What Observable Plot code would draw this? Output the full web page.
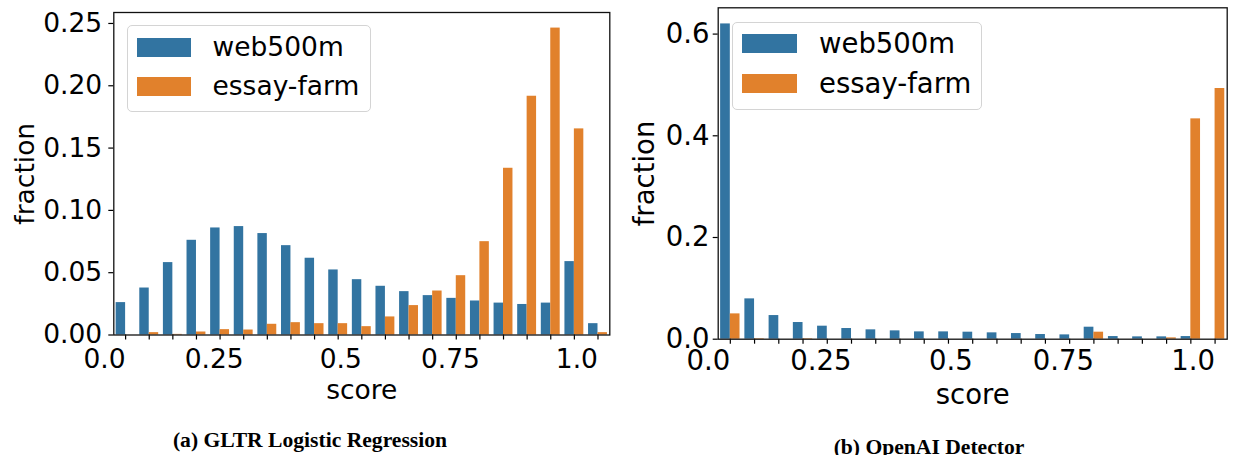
<!DOCTYPE html>
<html><head><meta charset="utf-8">
<script src="https://cdn.jsdelivr.net/npm/d3@7"></script>
<script src="https://cdn.jsdelivr.net/npm/@observablehq/plot@0.6"></script>
<style>
body{margin:0;background:#fff;}
#wrap{position:relative;width:1233px;height:455px;overflow:hidden;font-family:"DejaVu Sans";color:#000;}
.panel{position:absolute;top:0;}
.legend{position:absolute;border:1.3px solid #d4d4d4;border-radius:5px;background:rgba(255,255,255,0.8);box-sizing:border-box;}
.sw{position:absolute;}
.lt{position:absolute;line-height:1;white-space:nowrap;font-family:"DejaVu Sans";}
.cap{position:absolute;text-align:center;font-family:"Liberation Serif";font-weight:bold;line-height:1;white-space:nowrap;}
</style>
</head><body><div id="wrap"></div><script>
// score bins (group centres) shared by both panels
const bins = [0.00,0.05,0.10,0.15,0.20,0.25,0.30,0.35,0.40,0.45,0.50,0.55,0.60,0.65,0.70,0.75,0.80,0.85,0.90,0.95,1.00];
const seriesNames = ["web500m","essay-farm"];
const seriesColors = ["#3274a1","#e1812c"];
const xTickValues = [0, 0.25, 0.5, 0.75, 1.0];
const xTickLabels = ["0.0","0.25","0.5","0.75","1.0"];

// (a) GLTR Logistic Regression
const gltrWeb = [0.0260,0.0377,0.0581,0.0760,0.0859,0.0870,0.0814,0.0717,0.0616,0.0522,0.0444,0.0391,0.0348,0.0316,0.0294,0.0273,0.0256,0.0245,0.0256,0.0589,0.0091];
const gltrEssay = [0.0000,0.0019,0.0005,0.0024,0.0043,0.0040,0.0086,0.0099,0.0091,0.0091,0.0067,0.0145,0.0236,0.0353,0.0476,0.0749,0.1338,0.1916,0.2463,0.1654,0.0019];
const gltrYTicks = [0,0.05,0.10,0.15,0.20,0.25];

// (b) OpenAI Detector
const openaiWeb = [0.620,0.0793,0.0465,0.0328,0.0256,0.0210,0.0184,0.0164,0.0144,0.0144,0.0138,0.0125,0.0111,0.0092,0.0085,0.0236,0.0052,0.0046,0.0046,0.0052,0.0000];
const openaiEssay = [0.0498,0.0010,0.0000,0.0010,0.0000,0.0000,0.0000,0.0000,0.0000,0.0000,0.0000,0.0000,0.0000,0.0000,0.0000,0.0138,0.0000,0.0000,0.0026,0.4333,0.4930];
const openaiYTicks = [0,0.2,0.4,0.6];

const captions = ["(a) GLTR Logistic Regression","(b) OpenAI Detector"];

const wrap = document.getElementById("wrap");
const halfW = 0.02;

function panel(cfg){
  const rows = [];
  bins.forEach((b,i)=>{
    rows.push({series: seriesNames[0], value: cfg.web[i], x1: b - halfW, x2: b});
    rows.push({series: seriesNames[1], value: cfg.essay[i], x1: b, x2: b + halfW});
  });
  const fs = cfg.fs;
  const svg = Plot.plot({
    width: cfg.width, height: cfg.height,
    marginLeft: cfg.ml, marginRight: cfg.mr, marginTop: cfg.mt, marginBottom: cfg.mb,
    style: {fontFamily: "DejaVu Sans", fontSize: fs + "px", color: "#000", background: "transparent", overflow: "visible"},
    x: {domain: [-0.025, 1.025], axis: null},
    y: {domain: [0, cfg.ymax], axis: null},
    color: {domain: seriesNames, range: seriesColors},
    marks: [
      Plot.rect(rows, {x1: "x1", x2: "x2", y1: d => 0, y2: "value", fill: "series"}),
      Plot.axisY({ticks: cfg.yTicks, tickFormat: d3.format(cfg.yFmt), tickSize: 5, tickPadding: cfg.yPad, fontSize: fs, strokeWidth: 1.2, label: null}),
      Plot.axisX({ticks: bins, tickSize: 5, tickFormat: () => "", strokeWidth: 1.2, label: null}),
      Plot.text(xTickValues, {x: d => d, text: d => xTickLabels[xTickValues.indexOf(d)], frameAnchor: "bottom", textAnchor: "end", lineAnchor: "top", dy: cfg.xPad, fontSize: fs}),
      Plot.frame({stroke: "#111", strokeWidth: 1.3}),
      Plot.text(["score"], {frameAnchor: "bottom", textAnchor: "middle", lineAnchor: "bottom", dy: cfg.scoreDy, fontSize: fs}),
      Plot.text(["fraction"], {frameAnchor: "left", textAnchor: "middle", lineAnchor: "bottom", rotate: -90, dx: cfg.fracDx, fontSize: fs})
    ]
  });
  svg.classList.add("panel");
  svg.style.left = cfg.left + "px";
  wrap.appendChild(svg);

  // legend (inside axes, upper left)
  const L = cfg.legend;
  const box = document.createElement("div");
  box.className = "legend";
  Object.assign(box.style, {left: L.x + "px", top: L.y + "px", width: L.w + "px", height: L.h + "px"});
  wrap.appendChild(box);
  seriesNames.forEach((name, i) => {
    const sw = document.createElement("div");
    sw.className = "sw";
    Object.assign(sw.style, {left: L.swx + "px", top: L.swy[i] + "px", width: L.sww + "px", height: L.swh + "px", background: seriesColors[i]});
    wrap.appendChild(sw);
    const t = document.createElement("div");
    t.className = "lt";
    t.textContent = name;
    Object.assign(t.style, {left: L.tx + "px", top: (L.base[i] - 0.846 * L.fs) + "px", fontSize: L.fs + "px"});
    wrap.appendChild(t);
  });

  const cap = document.createElement("div");
  cap.className = "cap";
  cap.textContent = cfg.caption;
  Object.assign(cap.style, {left: cfg.capLeft + "px", width: cfg.capWidth + "px", top: (cfg.capBase - 0.8375 * cfg.capFs) + "px", fontSize: cfg.capFs + "px"});
  wrap.appendChild(cap);
}

panel({
  left: 0, width: 620, height: 420, ml: 113.3, mr: 10.7, mt: 12, mb: 420 - 334.5,
  web: gltrWeb, essay: gltrEssay, ymax: 0.2588, yTicks: gltrYTicks, yFmt: ".2f",
  fs: 26.5, yPad: 6.6, xPad: 14.3, scoreDy: 63.8, fracDx: 33.3 - 113.3,
  legend: {x: 126.7, y: 25.3, w: 244.3, h: 87, swx: 137.3, swy: [38.3, 77.3], sww: 53.4, swh: 18.4, tx: 212.5, base: [56.7, 95.7], fs: 26.5},
  caption: captions[0], capLeft: 0, capWidth: 620, capBase: 448, capFs: 21.6
});
panel({
  left: 620, width: 613, height: 420, ml: 97.7, mr: 6.3, mt: 7.3, mb: 420 - 338.7,
  web: openaiWeb, essay: openaiEssay, ymax: 0.6517, yTicks: openaiYTicks, yFmt: ".1f",
  fs: 27.5, yPad: 3.8, xPad: 11.3, scoreDy: 64.6, fracDx: 33.3 - 97.7,
  legend: {x: 731.7, y: 21.7, w: 250.6, h: 88.3, swx: 742.3, swy: [34, 74], sww: 54.7, swh: 19.3, tx: 819, base: [53.3, 93.3], fs: 27.5},
  caption: captions[1], capLeft: 625, capWidth: 608, capBase: 454.7, capFs: 21.6
});
</script></body></html>
